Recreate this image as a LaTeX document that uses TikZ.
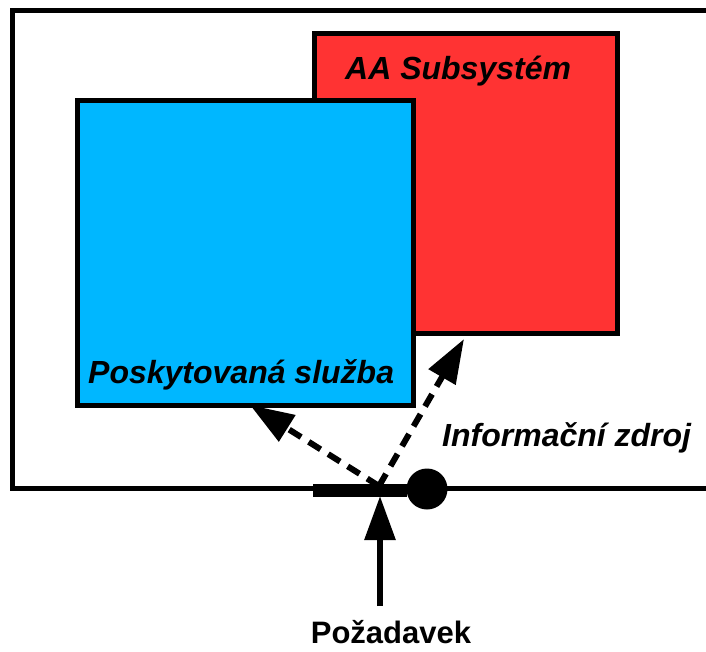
\documentclass[tikz,border=0pt]{standalone}
\usepackage{fontspec}
\setmainfont{Liberation Sans}
\usetikzlibrary{arrows.meta,positioning}
\definecolor{bc}{RGB}{0,183,255}
\definecolor{rc}{RGB}{255,51,51}
\tikzset{box/.style={draw,line width=5pt,inner sep=0pt},
 lbl/.style={font=\fontsize{32}{32}\selectfont\bfseries\itshape,inner sep=0pt},
 arr/.style={-{Triangle[length=44pt,width=30pt]},line width=6pt},
 darr/.style={arr,dash pattern=on 14pt off 9pt},
 blob/.style={fill=black,inner sep=0pt}}
\begin{document}
\begin{tikzpicture}[x=1pt,y=-1pt]
\useasboundingbox (0,0) rectangle (706,651);
\clip (0,0) rectangle (706,651);
\draw[line width=5pt] (730,10) -| (12,488) -- (730,488);
\node[box,fill=rc,minimum width=303pt,minimum height=300pt] (aa) at (465.5,183) {};
\node[box,fill=bc,minimum width=336pt,minimum height=305pt] (ps) at (245,252.5) {};
\node[lbl,anchor=base west] (aalbl) at (345,79) {AA Subsystém};
\node[lbl,anchor=base west] (pslbl) at (88,383) {Poskytovaná služba};
\node[lbl,anchor=base west] (izlbl) at (442,446) {Informační zdroj};
\node[blob,minimum width=94pt,minimum height=13pt] (bar) at (360,490) {};
\node[blob,circle,minimum size=41pt] (iz) at (427,489) {};
\coordinate (src) at (379,486);
\coordinate (lt) at (250,405);
\coordinate (rt) at (464,339);
\node[font=\fontsize{31}{31}\selectfont\bfseries,inner sep=0pt,anchor=base] (req) at (391,643) {Požadavek};
\coordinate (tail) at (380,606);
\coordinate (top) at (380,496);
\draw[darr] (src) -- (lt);
\draw[darr] (src) -- (rt);
\draw[arr] (tail) -- (top);
\end{tikzpicture}
\end{document}
